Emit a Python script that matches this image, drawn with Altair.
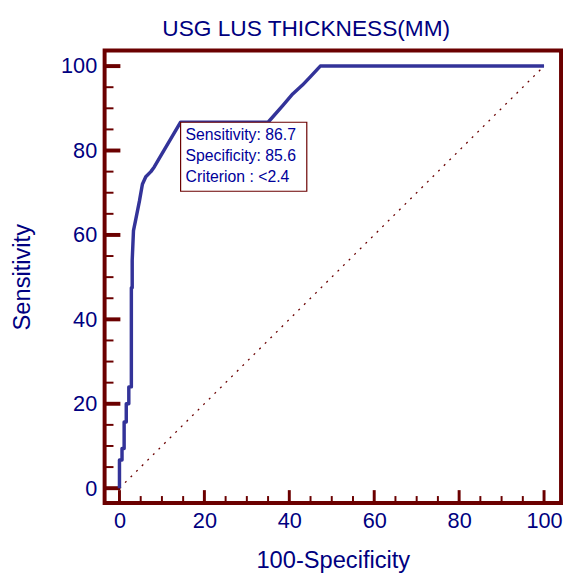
import altair as alt
import pandas as pd

# ROC curve points (100-Specificity, Sensitivity)
fpr = [0, 0, 0.6, 0.6, 1.1, 1.1, 1.6, 1.6, 2.2, 2.2, 2.8, 2.8, 3.0, 3.0, 3.3, 3.9, 4.7,
       5.4, 6.2, 7.4, 8.2, 9.3, 14.4, 35.0, 38.5, 40.8, 43.1, 45.0, 47.3, 100]
tpr = [0, 6.7, 6.7, 9.4, 9.4, 15.7, 15.7, 20.0, 20.0, 24.0, 24.0, 47.5, 47.5, 54.0, 61.0,
       64.0, 68.0, 72.0, 73.8, 75.0, 76.1, 78.0, 86.7, 86.7, 90.7, 93.4, 95.5, 97.5, 100, 100]

# reference diagonal
diag_x = [0, 100]
diag_y = [0, 100]

# criterion point and its annotation
crit_x = [14.4]
crit_y = [86.7]
annot_lines = ["Sensitivity: 86.7", "Specificity: 85.6", "Criterion : <2.4"]

tick_values = list(range(0, 101, 5))
label_values = list(range(0, 101, 20))

title = "USG LUS THICKNESS(MM)"
x_title = "100-Specificity"
y_title = "Sensitivity"

W, H = 463, 459
FONT = "Liberation Sans"
NAVY = "#000080"
MAROON = "#6b0000"
CURVE = "#333399"

xdom = [-3.5, 104]
ydom = [-3.5, 103.7]

roc = pd.DataFrame({"x": fpr, "y": tpr, "i": list(range(len(fpr)))})
diag = pd.DataFrame({"x": diag_x, "y": diag_y})
crit = pd.DataFrame({"x": crit_x, "y": crit_y})
ticks = pd.DataFrame({"v": tick_values, "major": [v % 20 == 0 for v in tick_values]})

xs = alt.Scale(domain=xdom, nice=False, zero=False)
ys = alt.Scale(domain=ydom, nice=False, zero=False)

xaxis = alt.Axis(values=label_values, ticks=False, domain=False, grid=False,
                 labelFontSize=22, labelColor=NAVY, labelFont=FONT, labelPadding=8,
                 labelFlush=False,
                 title=x_title, titleFontSize=24, titleColor=NAVY, titleFont=FONT,
                 titleFontWeight="normal", titlePadding=17)
yaxis = alt.Axis(values=label_values, ticks=False, domain=False, grid=False,
                 labelFontSize=22, labelColor=NAVY, labelFont=FONT, labelPadding=8,
                 labelFlush=False,
                 title=y_title, titleFontSize=24, titleColor=NAVY, titleFont=FONT,
                 titleFontWeight="normal", titlePadding=26)

base_diag = alt.Chart(diag).mark_line(color=MAROON, strokeWidth=1.3, strokeDash=[2, 6]).encode(
    x=alt.X("x:Q", scale=xs, axis=xaxis),
    y=alt.Y("y:Q", scale=ys, axis=yaxis),
)

curve = alt.Chart(roc).mark_line(color=CURVE, strokeWidth=3.5, strokeJoin="round").encode(
    x=alt.X("x:Q", scale=xs),
    y=alt.Y("y:Q", scale=ys),
    order="i:Q",
)

box = alt.Chart(crit).mark_rect(width=128, height=70, xOffset=64, yOffset=35,
                                fill="white", stroke=MAROON, strokeWidth=1.2).encode(
    x=alt.X("x:Q", scale=xs),
    y=alt.Y("y:Q", scale=ys),
)

texts = []
for k, line in enumerate(annot_lines):
    texts.append(
        alt.Chart(crit).mark_text(text=line, align="left", baseline="middle", dx=5,
                                  dy=13 + 21.5 * k, fontSize=16, font=FONT, color="#000099").encode(
            x=alt.X("x:Q", scale=xs),
            y=alt.Y("y:Q", scale=ys),
        )
    )

def bottom_ticks(major):
    d = ticks[ticks.major == major]
    ln = 13 if major else 7
    return alt.Chart(d).mark_rule(color=MAROON, strokeWidth=3 if major else 2).encode(
        x=alt.X("v:Q", scale=xs),
        y=alt.value(H),
        y2=alt.value(H - ln),
    )

def left_ticks(major):
    d = ticks[ticks.major == major]
    ln = 16 if major else 9
    return alt.Chart(d).mark_rule(color=MAROON, strokeWidth=4 if major else 2).encode(
        y=alt.Y("v:Q", scale=ys),
        x=alt.value(0),
        x2=alt.value(ln),
    )

chart = alt.layer(
    base_diag, bottom_ticks(True), bottom_ticks(False), left_ticks(True), left_ticks(False),
    curve, box, *texts,
).properties(
    width=W, height=H,
    title=alt.TitleParams(title, fontSize=23, font=FONT, fontWeight="normal", color=NAVY,
                          anchor="middle", offset=10, dx=-27),
).configure(
    background="white",
    padding={"left": 3, "top": 6, "right": 0, "bottom": 0},
).configure_view(
    stroke=MAROON, strokeWidth=4,
)

chart.save("out.html", embed_options={"renderer": "svg", "actions": False})
